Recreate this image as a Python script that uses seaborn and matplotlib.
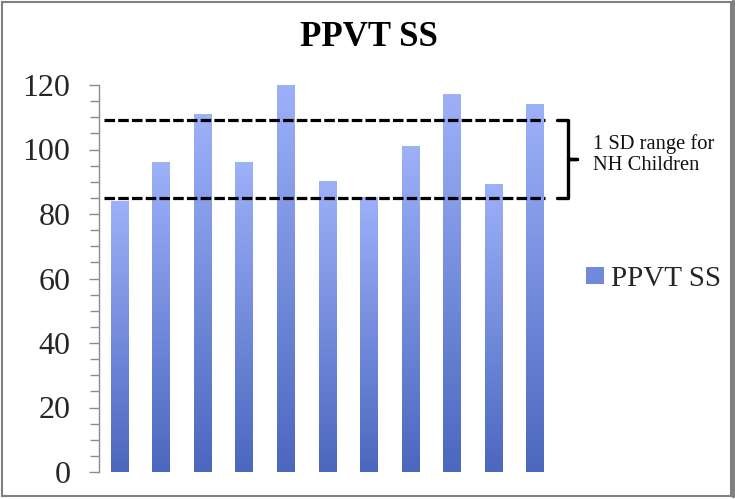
import numpy as np
import pandas as pd
import matplotlib
matplotlib.use("Agg")
import matplotlib.pyplot as plt
import matplotlib.transforms as mtransforms
import seaborn as sns
from matplotlib.colors import LinearSegmentedColormap
from matplotlib.patches import Rectangle, Patch
from matplotlib.lines import Line2D
from matplotlib.ticker import MultipleLocator

# ---- data ----
children = [str(i) for i in range(1, 12)]
ppvt_ss = [84, 96, 111, 96, 120, 90, 85, 101, 117, 89, 114]
sd_lower = 85
sd_upper = 109
y_ticks = [0, 20, 40, 60, 80, 100, 120]
title = "PPVT SS"
series_name = "PPVT SS"
note_lines = ["1 SD range for", "NH Children"]

sns.set_theme(style="white")
plt.rcParams['font.family'] = ['Liberation Serif', 'DejaVu Serif']

W, H = 735, 499
fig = plt.figure(figsize=(W / 100, H / 100), dpi=100)
ax = fig.add_axes([99 / W, 1 - 472 / H, (556 - 99) / W, (472 - 85) / H])

df = pd.DataFrame({"child": children, series_name: ppvt_ss})
sns.barplot(data=df, x="child", y=series_name, ax=ax, width=0.43,
            color="#7189DC", saturation=1)

top_c, bot_c = "#9DB1F9", "#4B67BE"
cmap = LinearSegmentedColormap.from_list("g", [bot_c, top_c])
grad = np.linspace(0, 1, 256).reshape(-1, 1)
for p in list(ax.patches):
    x0, y0 = p.get_x(), p.get_y()
    w, h = p.get_width(), p.get_height()
    ax.imshow(grad, extent=[x0, x0 + w, y0, y0 + h], origin='lower',
              aspect='auto', cmap=cmap, zorder=2, interpolation='bilinear')
    p.set_facecolor('none')
    p.set_edgecolor('none')

ax.set_xlim(-0.5, len(children) - 0.5)
ax.set_ylim(0, 120)
ax.set_aspect('auto')

# SD lines
for v in (sd_lower, sd_upper):
    ax.axhline(v, xmin=5 / 457, xmax=446 / 457, color='black', lw=2.3,
               dashes=(3.3, 1.0), zorder=4, clip_on=False)

# ticks / spines
ax.set_yticks(y_ticks)
ax.yaxis.set_minor_locator(MultipleLocator(5))
ax.tick_params(axis='y', which='major', direction='out', length=7.2, width=1,
               color='#8c8c8c', pad=13.5, labelsize=23, left=True)
ax.tick_params(axis='y', which='minor', direction='out', length=6.5, width=1,
               color='#8c8c8c', left=True)
ax.tick_params(axis='x', bottom=False, labelbottom=False)
ax.set_xlabel('')
ax.set_ylabel('')
for s in ('top', 'right', 'bottom'):
    ax.spines[s].set_visible(False)
ax.spines['left'].set_color('#8c8c8c')
ax.spines['left'].set_linewidth(1)

# bracket (x in axes fraction, y in data)
trans = mtransforms.blended_transform_factory(ax.transAxes, ax.transData)
xa = (557 - 99) / 457
xb = (568 - 99) / 457
xt = (577 - 99) / 457
ymid = (sd_lower + sd_upper) / 2
bx = [xa, xb, xb, xt, xb, xb, xa]
by = [sd_upper, sd_upper, ymid, ymid, ymid, sd_lower, sd_lower]
ax.add_line(Line2D(bx, by, transform=trans, color='black', lw=2.4,
                   clip_on=False, solid_joinstyle='round'))

for line, ypx in zip(note_lines, (142, 163)):
    fig.text(593 / W, 1 - ypx / H, line, ha='left', va='center_baseline',
             fontsize=14.8, color='#111111')

# title
fig.text(369 / W, 1 - 37 / H, title, ha='center', va='center',
         fontsize=25, fontweight='bold', color='black')

# legend
leg = fig.legend(handles=[Patch(facecolor="#7189DC", edgecolor='none')],
                 labels=[series_name], loc='center left',
                 bbox_to_anchor=(586 / W, 1 - 279 / H), frameon=False,
                 fontsize=21, handlelength=0.6, handleheight=0.55,
                 handletextpad=0.25, borderpad=0, borderaxespad=0)

# figure border
fig.patches.append(Rectangle((1.5 / W, 3 / H), (731 - 1.5) / W, (497 - 3) / H,
                             transform=fig.transFigure, fill=False,
                             edgecolor='#808080', lw=1.5))
fig.lines.append(Line2D([732.5 / W, 732.5 / W], [3 / H, 1 - 1 / H],
                        transform=fig.transFigure, color='#808080', lw=2.5))

fig.savefig("out.png", dpi=100)
